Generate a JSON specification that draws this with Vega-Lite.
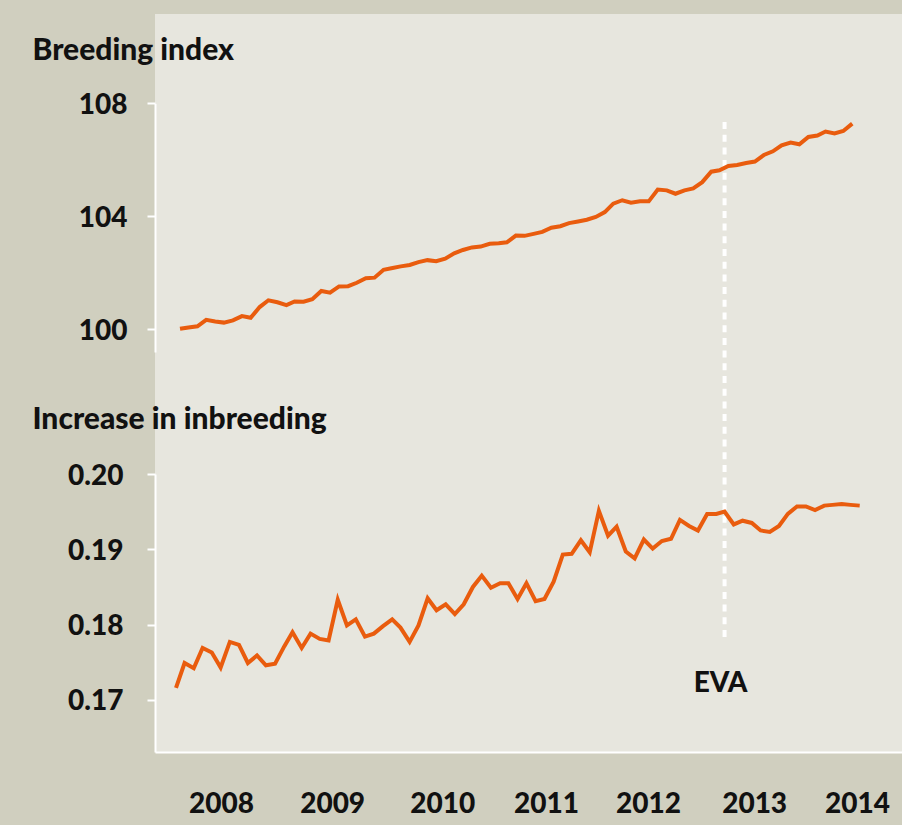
{
  "$schema": "https://vega.github.io/schema/vega-lite/v6.json",
  "width": 747,
  "height": 738,
  "padding": {"left": 32, "top": 14, "right": 0, "bottom": 7},
  "datasets": {
    "breeding": [
      {"date": "2008-02-01", "value": 100.02}, {"date": "2008-03-01", "value": 100.07}, {"date": "2008-04-01", "value": 100.11}, {"date": "2008-05-01", "value": 100.34},
      {"date": "2008-06-01", "value": 100.28}, {"date": "2008-07-01", "value": 100.24}, {"date": "2008-08-01", "value": 100.32}, {"date": "2008-09-01", "value": 100.47},
      {"date": "2008-10-01", "value": 100.41}, {"date": "2008-11-01", "value": 100.79}, {"date": "2008-12-01", "value": 101.03}, {"date": "2009-01-01", "value": 100.96},
      {"date": "2009-02-01", "value": 100.86}, {"date": "2009-03-01", "value": 100.99}, {"date": "2009-04-01", "value": 100.98}, {"date": "2009-05-01", "value": 101.07},
      {"date": "2009-06-01", "value": 101.36}, {"date": "2009-07-01", "value": 101.30}, {"date": "2009-08-01", "value": 101.52}, {"date": "2009-09-01", "value": 101.53},
      {"date": "2009-10-01", "value": 101.65}, {"date": "2009-11-01", "value": 101.81}, {"date": "2009-12-01", "value": 101.83}, {"date": "2010-01-01", "value": 102.11},
      {"date": "2010-02-01", "value": 102.17}, {"date": "2010-03-01", "value": 102.23}, {"date": "2010-04-01", "value": 102.28}, {"date": "2010-05-01", "value": 102.38},
      {"date": "2010-06-01", "value": 102.45}, {"date": "2010-07-01", "value": 102.41}, {"date": "2010-08-01", "value": 102.50}, {"date": "2010-09-01", "value": 102.69},
      {"date": "2010-10-01", "value": 102.81}, {"date": "2010-11-01", "value": 102.90}, {"date": "2010-12-01", "value": 102.93}, {"date": "2011-01-01", "value": 103.03},
      {"date": "2011-02-01", "value": 103.05}, {"date": "2011-03-01", "value": 103.08}, {"date": "2011-04-01", "value": 103.32}, {"date": "2011-05-01", "value": 103.31},
      {"date": "2011-06-01", "value": 103.38}, {"date": "2011-07-01", "value": 103.45}, {"date": "2011-08-01", "value": 103.60}, {"date": "2011-09-01", "value": 103.65},
      {"date": "2011-10-01", "value": 103.76}, {"date": "2011-11-01", "value": 103.82}, {"date": "2011-12-01", "value": 103.88}, {"date": "2012-01-01", "value": 103.98},
      {"date": "2012-02-01", "value": 104.15}, {"date": "2012-03-01", "value": 104.45}, {"date": "2012-04-01", "value": 104.57}, {"date": "2012-05-01", "value": 104.48},
      {"date": "2012-06-01", "value": 104.53}, {"date": "2012-07-01", "value": 104.53}, {"date": "2012-08-01", "value": 104.95}, {"date": "2012-09-01", "value": 104.92},
      {"date": "2012-10-01", "value": 104.80}, {"date": "2012-11-01", "value": 104.92}, {"date": "2012-12-01", "value": 104.99}, {"date": "2013-01-01", "value": 105.21},
      {"date": "2013-02-01", "value": 105.58}, {"date": "2013-03-01", "value": 105.63}, {"date": "2013-04-01", "value": 105.78}, {"date": "2013-05-01", "value": 105.82},
      {"date": "2013-06-01", "value": 105.89}, {"date": "2013-07-01", "value": 105.94}, {"date": "2013-08-01", "value": 106.17}, {"date": "2013-09-01", "value": 106.30},
      {"date": "2013-10-01", "value": 106.51}, {"date": "2013-11-01", "value": 106.61}, {"date": "2013-12-01", "value": 106.55}, {"date": "2014-01-01", "value": 106.81},
      {"date": "2014-02-01", "value": 106.86}, {"date": "2014-03-01", "value": 107.00}, {"date": "2014-04-01", "value": 106.93}, {"date": "2014-05-01", "value": 107.02},
      {"date": "2014-06-01", "value": 107.28}
    ],
    "inbreeding": [
      {"date": "2008-02-01", "value": 0.1716}, {"date": "2008-03-01", "value": 0.1749}, {"date": "2008-04-01", "value": 0.1742}, {"date": "2008-05-01", "value": 0.1769},
      {"date": "2008-06-01", "value": 0.1763}, {"date": "2008-07-01", "value": 0.1743}, {"date": "2008-08-01", "value": 0.1777}, {"date": "2008-09-01", "value": 0.1773},
      {"date": "2008-10-01", "value": 0.1749}, {"date": "2008-11-01", "value": 0.1759}, {"date": "2008-12-01", "value": 0.1746}, {"date": "2009-01-01", "value": 0.1748},
      {"date": "2009-02-01", "value": 0.1771}, {"date": "2009-03-01", "value": 0.1790}, {"date": "2009-04-01", "value": 0.1769}, {"date": "2009-05-01", "value": 0.1788},
      {"date": "2009-06-01", "value": 0.1781}, {"date": "2009-07-01", "value": 0.1779}, {"date": "2009-08-01", "value": 0.1833}, {"date": "2009-09-01", "value": 0.1799},
      {"date": "2009-10-01", "value": 0.1807}, {"date": "2009-11-01", "value": 0.1784}, {"date": "2009-12-01", "value": 0.1788}, {"date": "2010-01-01", "value": 0.1798},
      {"date": "2010-02-01", "value": 0.1807}, {"date": "2010-03-01", "value": 0.1796}, {"date": "2010-04-01", "value": 0.1777}, {"date": "2010-05-01", "value": 0.1799},
      {"date": "2010-06-01", "value": 0.1835}, {"date": "2010-07-01", "value": 0.1819}, {"date": "2010-08-01", "value": 0.1827}, {"date": "2010-09-01", "value": 0.1814},
      {"date": "2010-10-01", "value": 0.1827}, {"date": "2010-11-01", "value": 0.1850}, {"date": "2010-12-01", "value": 0.1865}, {"date": "2011-01-01", "value": 0.1849},
      {"date": "2011-02-01", "value": 0.1855}, {"date": "2011-03-01", "value": 0.1855}, {"date": "2011-04-01", "value": 0.1834}, {"date": "2011-05-01", "value": 0.1855},
      {"date": "2011-06-01", "value": 0.1831}, {"date": "2011-07-01", "value": 0.1834}, {"date": "2011-08-01", "value": 0.1857}, {"date": "2011-09-01", "value": 0.1893},
      {"date": "2011-10-01", "value": 0.1894}, {"date": "2011-11-01", "value": 0.1912}, {"date": "2011-12-01", "value": 0.1896}, {"date": "2012-01-01", "value": 0.1951},
      {"date": "2012-02-01", "value": 0.1918}, {"date": "2012-03-01", "value": 0.1930}, {"date": "2012-04-01", "value": 0.1897}, {"date": "2012-05-01", "value": 0.1888},
      {"date": "2012-06-01", "value": 0.1913}, {"date": "2012-07-01", "value": 0.1901}, {"date": "2012-08-01", "value": 0.1911}, {"date": "2012-09-01", "value": 0.1914},
      {"date": "2012-10-01", "value": 0.1939}, {"date": "2012-11-01", "value": 0.1931}, {"date": "2012-12-01", "value": 0.1925}, {"date": "2013-01-01", "value": 0.1947},
      {"date": "2013-02-01", "value": 0.1947}, {"date": "2013-03-01", "value": 0.1950}, {"date": "2013-04-01", "value": 0.1933}, {"date": "2013-05-01", "value": 0.1938},
      {"date": "2013-06-01", "value": 0.1935}, {"date": "2013-07-01", "value": 0.1925}, {"date": "2013-08-01", "value": 0.1923}, {"date": "2013-09-01", "value": 0.1931},
      {"date": "2013-10-01", "value": 0.1947}, {"date": "2013-11-01", "value": 0.1957}, {"date": "2013-12-01", "value": 0.1957}, {"date": "2014-01-01", "value": 0.1952},
      {"date": "2014-02-01", "value": 0.1958}, {"date": "2014-03-01", "value": 0.1959}, {"date": "2014-04-01", "value": 0.1960}, {"date": "2014-05-01", "value": 0.1959},
      {"date": "2014-06-01", "value": 0.1958}
    ],
    "events": [{"event": "EVA", "date": "2013-03-01"}]
  },
  "layer": [
    {
      "data": {"name": "events"},
      "mark": {"type": "rule", "color": "#ffffff", "strokeWidth": 4, "strokeDash": [7, 5.7]},
      "encoding": {
        "x": {"field": "date", "type": "temporal", "scale": {"type": "utc", "domain": [1195689600000, 1413936000000]}, "axis": null},
        "y": {"datum": 0.24675, "scale": {"domain": [0.16308, 0.2], "range": [738, 460], "zero": false, "nice": false}, "axis": null},
        "y2": {"datum": 0.17822}
      }
    },
    {
      "data": {"name": "breeding"},
      "mark": {"type": "line", "color": "#e95c0e", "strokeWidth": 4},
      "encoding": {
        "x": {
          "field": "date", "type": "temporal",
          "scale": {"type": "utc", "domain": [1194393600000, 1416355200000]},
          "axis": null
        },
        "y": {
          "field": "value", "type": "quantitative",
          "scale": {"domain": [99.2, 108], "range": [338, 89.3], "zero": false, "nice": false},
          "axis": {
            "orient": "left",
            "title": "Breeding index",
            "values": [100, 104, 108],
            "format": "d",
            "domain": true, "domainColor": "#ffffff", "domainWidth": 2,
            "grid": false,
            "ticks": true, "tickColor": "#ffffff", "tickSize": 8, "tickWidth": 2,
            "labelPadding": 20, "labelFontSize": 28, "labelFontWeight": 900, "labelColor": "#111111", "labelFont": "Lato", "labelOffset": 2,
            "titleAngle": 0, "titleAlign": "left", "titleBaseline": "alphabetic", "titleX": -123, "titleY": 45,
            "titleFontSize": 30, "titleFontWeight": 900, "titleColor": "#111111", "titleFont": "Lato"
          }
        }
      }
    },
    {
      "data": {"name": "inbreeding"},
      "mark": {"type": "line", "color": "#e95c0e", "strokeWidth": 4},
      "encoding": {
        "x": {
          "field": "date", "type": "temporal",
          "scale": {"type": "utc", "domain": [1195689600000, 1413936000000]},
          "axis": {
            "orient": "bottom",
            "title": null,
            "values": [1214956800000, 1247443200000, 1279584000000, 1309910400000, 1339718400000, 1370736000000, 1400803200000],
            "format": "%Y",
            "domain": true, "domainColor": "#ffffff", "domainWidth": 2,
            "ticks": false, "tickSize": 0, "grid": false,
            "labelPadding": 38, "labelFontSize": 28, "labelFontWeight": 900, "labelColor": "#111111", "labelFont": "Lato",
            "labelFlush": false, "labelOverlap": false
          }
        },
        "y": {
          "field": "value", "type": "quantitative",
          "scale": {"domain": [0.16308, 0.2], "range": [738, 460], "zero": false, "nice": false},
          "axis": {
            "orient": "left",
            "title": "Increase in inbreeding",
            "values": [0.17, 0.18, 0.19, 0.2],
            "format": ".2f",
            "domain": true, "domainColor": "#ffffff", "domainWidth": 2,
            "grid": false,
            "ticks": true, "tickColor": "#ffffff", "tickSize": 8, "tickWidth": 2,
            "labelPadding": 24, "labelFontSize": 28, "labelFontWeight": 900, "labelColor": "#111111", "labelFont": "Lato", "labelOffset": 2,
            "titleAngle": 0, "titleAlign": "left", "titleBaseline": "alphabetic", "titleX": -123, "titleY": 414,
            "titleFontSize": 30, "titleFontWeight": 900, "titleColor": "#111111", "titleFont": "Lato"
          }
        }
      }
    },
    {
      "data": {"name": "events"},
      "mark": {"type": "text", "font": "Lato", "fontSize": 28, "fontWeight": 900, "color": "#111111", "align": "center", "baseline": "alphabetic", "dx": -4},
      "encoding": {
        "x": {"field": "date", "type": "temporal", "scale": {"type": "utc", "domain": [1195689600000, 1413936000000]}, "axis": null},
        "y": {"datum": 0.17105, "scale": {"domain": [0.16308, 0.2], "range": [738, 460], "zero": false, "nice": false}, "axis": null},
        "text": {"field": "event"}
      }
    }
  ],
  "resolve": {"scale": {"x": "independent", "y": "independent"}},
  "config": {
    "background": "#d0cfbf",
    "view": {"stroke": null, "fill": "#e7e6de"},
    "font": "Lato"
  }
}
